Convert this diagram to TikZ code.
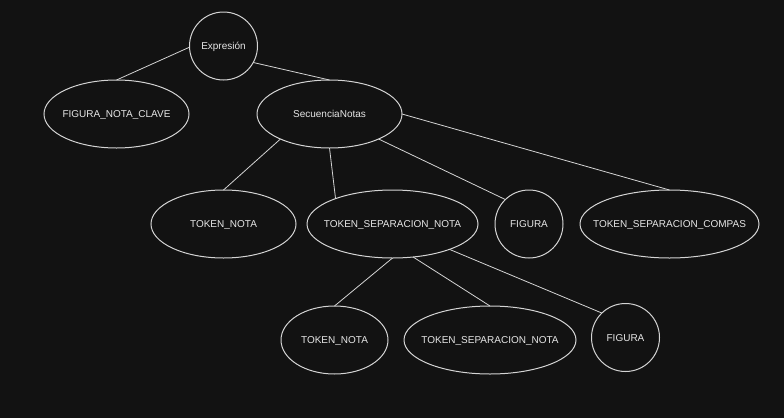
\documentclass[tikz,border=0pt]{standalone}
\usepackage{fontspec}
\setmainfont{Liberation Sans}
\usetikzlibrary{shapes.geometric}
\definecolor{fondo}{HTML}{121212}
\definecolor{trazo}{HTML}{D4D4D4}
\definecolor{letra}{HTML}{E6E6E6}
\newcommand{\etq}[1]{\makebox[0pt]{#1}}

\begin{document}
\begin{tikzpicture}[x=1pt, y=-1pt,
  every node/.style={draw=trazo, line width=1pt, text=letra, inner sep=0pt, outer sep=0pt, text height=7.2pt, text depth=0pt, font=\fontsize{10}{12}\selectfont},
  elip/.style={ellipse, minimum height=68pt, minimum width=#1},
  circ/.style={circle, minimum size=68pt},
  arista/.style={draw=trazo, line width=0.8pt}]
\fill[fondo] (0,0) rectangle (784,418);
\useasboundingbox (0,0) rectangle (784,418);

\node[circ] (expr) at (223.5,46) {\etq{Expresión}};
\node[elip=145pt] (fnc) at (116.5,114) {\etq{FIGURA\_NOTA\_CLAVE}};
\node[elip=145pt] (secnot) at (329.5,114) {\etq{SecuenciaNotas}};

\node[elip=145pt] (tnota) at (223.5,224) {\etq{TOKEN\_NOTA}};
\node[elip=171pt] (tsepnota) at (392.5,224) {\etq{TOKEN\_SEPARACION\_NOTA}};
\node[circ] (fig) at (529,224) {\etq{FIGURA}};
\node[elip=179pt] (tsepcomp) at (669.5,224) {\etq{TOKEN\_SEPARACION\_COMPAS}};

\node[elip=107pt] (tnotab) at (334.5,340) {\etq{TOKEN\_NOTA}};
\node[elip=172pt] (tsepnotab) at (490,340) {\etq{TOKEN\_SEPARACION\_NOTA}};
\node[circ] (figb) at (625.5,337.5) {\etq{FIGURA}};

\draw[arista] (expr.182) -- (fnc.north);
\draw[arista] (expr.-29) -- (secnot.north);
\draw[arista] (secnot.207) -- (tnota.north);
\draw[arista] (secnot.south) -- (tsepnota.156);
\draw[arista] (secnot.-27) -- (fig.134);
\draw[arista] (secnot.east) -- (tsepcomp.north);
\draw[arista] (tsepnota.south) -- (tnotab.north);
\draw[arista] (tsepnota.-58) -- (tsepnotab.north);
\draw[arista] (tsepnota.-24) -- (figb.134);
\end{tikzpicture}
\end{document}
